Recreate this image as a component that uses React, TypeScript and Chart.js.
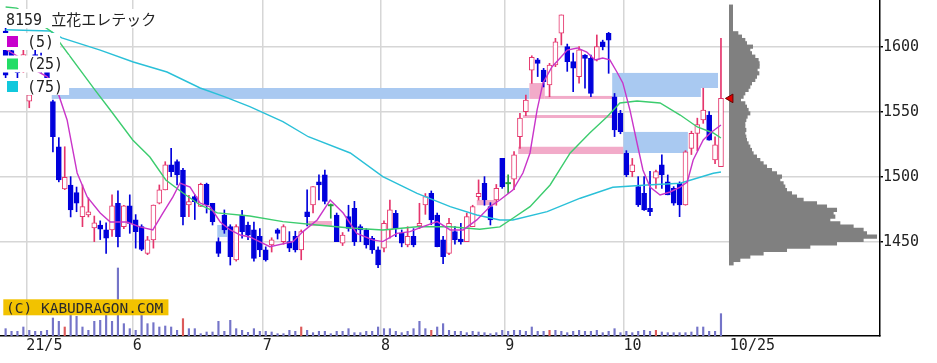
import { useEffect, useRef } from 'react';
import { Chart, registerables } from 'chart.js';

Chart.register(...registerables);

// ---------------- data ----------------
const TITLE = '8159 立花エレテック';
const COPYRIGHT = '(C) KABUDRAGON.COM';

// trading days 2021/4/26 .. 2021/10/25 (index 0..121)
const opens = [
  1612, 1597, 1588, 1583, 1558, 1594, 1590, 1588, 1557.7, 1523,
  1490.5, 1493.6, 1487.7, 1469.2, 1470.5, 1460.5, 1462.8, 1459, 1459, 1479.5,
  1461.5, 1477.5, 1466.7, 1461.5, 1441, 1451.3, 1479.5, 1489.8, 1509, 1511.5,
  1505, 1478.2, 1484.6, 1477, 1494, 1479.5, 1450, 1470.5, 1461.5, 1436,
  1470.5, 1462.8, 1459, 1454, 1443.6, 1447.5, 1459, 1450, 1450, 1454,
  1443.6, 1473, 1478.2, 1496, 1501.3, 1478, 1470.5, 1448.8, 1469.2, 1475.6,
  1461.5, 1459, 1452.6, 1443.6, 1445, 1459, 1471.8, 1456.4, 1447.5, 1454,
  1462, 1478.2, 1487.2, 1470.5, 1451.3, 1441, 1457.7, 1452, 1450, 1461.5,
  1484.6, 1494.9, 1477, 1482, 1514, 1495, 1498, 1530.7, 1550, 1582,
  1589.8, 1582, 1570.5, 1585.9, 1610.3, 1600, 1588.5, 1577, 1593.6, 1591,
  1589.8, 1603.8, 1610.3, 1561.5, 1548.7, 1518, 1503.8, 1492.3, 1487.2, 1475.6,
  1498.8, 1509, 1496, 1491, 1494.9, 1478.2, 1521.8, 1533.3, 1543.6, 1547.4,
  1512.8, 1507.7,
];
const highs = [
  1615, 1600, 1592, 1598, 1564, 1598, 1595, 1592, 1559, 1530,
  1523, 1500, 1492, 1493.6, 1483.6, 1469.7, 1466, 1464.4, 1486, 1489,
  1478, 1486, 1470.8, 1463, 1454, 1478.2, 1493.6, 1511.5, 1521.8, 1513,
  1506.4, 1485.7, 1486, 1495, 1495, 1479.5, 1453, 1474.4, 1463, 1463,
  1474, 1465, 1465, 1460, 1446, 1453, 1460, 1463, 1457.7, 1458,
  1459, 1489.8, 1492.3, 1501.3, 1505, 1479, 1472, 1457, 1478, 1481,
  1463, 1460, 1454, 1446, 1466, 1482, 1474, 1459, 1461.5, 1460,
  1479.5, 1487, 1489, 1472, 1454, 1468, 1461.5, 1464, 1472, 1478,
  1497.5, 1500, 1480, 1494, 1514, 1501.3, 1519.2, 1548.7, 1562.8, 1593,
  1591, 1583.3, 1587.2, 1606.4, 1624.4, 1602, 1595, 1600, 1594, 1593.6,
  1609, 1605, 1611, 1564, 1551, 1520, 1514, 1500, 1500, 1504,
  1505, 1516.7, 1501.3, 1492.3, 1496, 1520, 1535, 1545, 1568, 1550,
  1530.7, 1606.4,
];
const lows = [
  1574, 1588, 1576, 1580, 1553, 1586, 1580, 1568, 1519, 1496,
  1490, 1469, 1473, 1461.5, 1469, 1450, 1451.6, 1441, 1454, 1446,
  1460, 1456.4, 1445, 1443, 1440, 1445, 1479, 1489.8, 1500, 1493.6,
  1462.8, 1469.2, 1467, 1477, 1472, 1462.8, 1438.5, 1456.4, 1432, 1435,
  1452.6, 1451.6, 1435, 1438.5, 1435, 1442, 1452, 1448, 1442.3, 1442,
  1436, 1462, 1472, 1482, 1479, 1468, 1450, 1447, 1458, 1447,
  1450, 1445, 1441, 1430, 1442, 1452.6, 1453.8, 1446, 1446, 1446,
  1460, 1471, 1463, 1446, 1433, 1440, 1448, 1448, 1450, 1461.5,
  1482, 1478, 1462.8, 1478, 1491, 1487, 1490, 1521.8, 1547, 1571.8,
  1577, 1569, 1561.5, 1584.6, 1601.3, 1581, 1565.4, 1572, 1568, 1561.5,
  1589, 1597.5, 1579.5, 1530.8, 1533, 1500, 1500, 1477, 1474, 1470,
  1491, 1491, 1486, 1478, 1469.2, 1478, 1517, 1520, 1541, 1528,
  1510, 1507.7,
];
const closes = [
  1578, 1592, 1580, 1594, 1563, 1588, 1584, 1572, 1530.7, 1497.5,
  1499.5, 1474.4, 1479.5, 1476.9, 1473, 1464.4, 1459.5, 1452.6, 1477.5, 1453.8,
  1477.5, 1464.1, 1457.7, 1444, 1451.3, 1478.2, 1489.8, 1509, 1503.8, 1501.3,
  1469.2, 1480.8, 1480.8, 1494, 1478.2, 1465.4, 1441, 1459, 1438.5, 1461.5,
  1457.7, 1455, 1437, 1443.6, 1436, 1451.3, 1456.4, 1461.5, 1445, 1443.6,
  1457.7, 1469.2, 1492.3, 1493.6, 1481, 1478, 1450, 1455, 1460.2, 1450,
  1459, 1447.5, 1443.6, 1432, 1464.1, 1474.4, 1460.2, 1448.8, 1454, 1447.5,
  1464, 1484.6, 1466.7, 1446.2, 1438.5, 1464.1, 1451.3, 1450, 1469.2, 1477,
  1487.2, 1482, 1466.7, 1491, 1492.3, 1495, 1516.7, 1545, 1559, 1591.8,
  1587.2, 1573, 1585.9, 1603.8, 1624.4, 1588.5, 1583.4, 1597.5, 1591, 1564.1,
  1600, 1600, 1605, 1536, 1534.6, 1501.3, 1509, 1478.2, 1474.4, 1473,
  1503.8, 1501.3, 1486, 1479.5, 1478.2, 1519, 1533.3, 1540, 1551.3, 1528,
  1524.4, 1560.2,
];
// volume (thousand shares)
const volumes = [
  22, 14, 14, 27, 17, 14, 14, 17, 54, 44,
  27, 62, 59, 27, 17, 44, 47, 62, 44, 204,
  37, 22, 17, 62, 37, 40, 27, 30, 27, 17,
  52, 22, 22, 7, 12, 12, 44, 14, 47, 22,
  17, 11, 22, 14, 14, 12, 7, 7, 17, 14,
  27, 17, 10, 14, 14, 7, 14, 14, 22, 10,
  10, 14, 14, 27, 22, 22, 14, 10, 14, 22,
  44, 22, 17, 27, 37, 17, 14, 14, 10, 14,
  12, 10, 7, 10, 17, 14, 17, 17, 14, 27,
  14, 14, 17, 17, 14, 10, 14, 17, 14, 14,
  17, 10, 14, 22, 10, 14, 10, 14, 17, 14,
  17, 12, 10, 10, 10, 10, 12, 27, 27, 14,
  14, 67,
];
const redVolumeDays = [10, 30, 50, 72, 92, 110];

// first trading day of each month and axis labels
const monthStartIdx = [4, 22, 44, 64, 85, 105];
const monthLabels = ['21/5', '6', '7', '8', '9', '10'];
const lastDateLabel = '10/25';
const priceTicks = [1450, 1500, 1550, 1600];

// moving averages [trading-day index, price]
const ma5Points = [
  [0, 1598], [3, 1590], [5, 1582], [7, 1577], [8.7, 1566.7], [10.4, 1543.6], [12.1, 1502.8],
  [13.8, 1484.4], [16, 1472], [17.7, 1465.1], [20.5, 1465.1], [22.7, 1461.3], [24.9, 1459],
  [26.6, 1472], [28.3, 1484.4], [29.5, 1495.1], [31.2, 1492], [32.9, 1479.7], [34.6, 1476.7],
  [36.3, 1465.1], [38, 1459], [39.7, 1455.1], [41.3, 1453.6], [44.7, 1446.1], [48.6, 1450],
  [50.3, 1457.7], [52.7, 1466.7], [54.9, 1482], [57.1, 1472], [59.4, 1456.4], [62.1, 1451.3],
  [63.8, 1450], [66.2, 1456.4], [68.4, 1457.7], [70.6, 1461.5], [73, 1465.4], [75.2, 1459],
  [77.4, 1459], [79.7, 1466.7], [81.9, 1476.9], [83.6, 1482], [85.8, 1489.7], [87.5, 1502.8],
  [88.7, 1518.2], [89.9, 1551.3], [90.9, 1572.1], [92.4, 1584.4], [93.8, 1591.3], [95, 1597.4],
  [96.7, 1599], [98.3, 1595.9], [99.7, 1589.8], [101, 1591.3], [102.2, 1589.8], [103.4, 1580.5],
  [104.4, 1572.1], [105.6, 1551.3], [106.8, 1525.9], [107.8, 1505.1], [109, 1492], [110.7, 1485.9],
  [112.4, 1488.2], [114.1, 1492], [115.3, 1495.9], [116.3, 1512.8], [118, 1528.2], [119.2, 1533.6],
  [121, 1539.7],
];
const ma25Points = [
  [0, 1630.5], [1.9, 1629.7], [7.85, 1611.3], [15.1, 1566.7], [17.7, 1551.3], [21.5, 1528.2],
  [24.4, 1515.1], [27.1, 1497.4], [30, 1487.4], [32.9, 1478.2], [35.8, 1472.1], [41.3, 1469.7],
  [46.9, 1465.4], [52.7, 1462.8], [58.3, 1460.5], [63.8, 1459], [69.6, 1461.5], [75.2, 1461.5],
  [80.2, 1459.5], [83.6, 1461.3], [85.8, 1468], [88.7, 1476.9], [92.1, 1493.6], [95.5, 1518.2],
  [98.8, 1533.6], [101.7, 1545.9], [103.9, 1556.7], [106.8, 1558.2], [110.7, 1556.7],
  [114.1, 1547.4], [117, 1538.2], [119.7, 1533.6], [121, 1529.7],
];
const ma75Points = [
  [0, 1613], [7.5, 1612], [9.5, 1606.7], [16, 1597.4], [21.6, 1588.2], [27.3, 1580.5],
  [32.9, 1568.2], [37.1, 1561.3], [41.3, 1553.8], [46.9, 1542.3], [51.2, 1530.7], [58.3, 1518.2],
  [63.8, 1500], [69.6, 1487.2], [75.2, 1476.9], [79.7, 1470.5], [83.6, 1466.7], [85.8, 1466.7],
  [91.6, 1473.1], [97.2, 1483.4], [102.7, 1491.8], [108.5, 1493.6], [114.1, 1494.9],
  [119.7, 1502.6], [121, 1503.6],
];
const maLabels = ['(5)', '(25)', '(75)'];

// price gaps (窓): [from index, to index, low, high, kind]
const gapZones = [
  [7.8, 88.6, 1559.8, 1568.2, 'down'],
  [88.6, 91.2, 1559.8, 1572, 'up'],
  [91.2, 102.7, 1559.8, 1562.1, 'up'],
  [87.5, 102.7, 1545.1, 1547.4, 'up'],
  [86.7, 104.5, 1517.4, 1523, 'up'],
  [102.6, 120.5, 1568.2, 1579.8, 'down'],
  [102.6, 117.6, 1561.3, 1568.2, 'down'],
  [104.5, 115.4, 1518.2, 1534.4, 'down'],
  [51.2, 55.2, 1462, 1465.9, 'up'],
  [79.7, 82.8, 1478, 1482, 'up'],
  [35.8, 37.5, 1453.6, 1462.8, 'down'],
];

// volume-by-price profile
const profilePrices = [
  1630.8, 1628.2, 1625.6, 1623.1, 1620.5, 1617.9, 1615.4, 1612.8, 1610.3, 1607.7,
  1605.1, 1602.6, 1600.0, 1597.4, 1594.9, 1592.3, 1589.7, 1587.2, 1584.6, 1582.1,
  1579.5, 1576.9, 1574.4, 1571.8, 1569.2, 1566.7, 1564.1, 1561.5, 1559.0, 1556.4,
  1553.8, 1551.3, 1548.7, 1546.2, 1543.6, 1541.0, 1538.5, 1535.9, 1533.3, 1530.8,
  1528.2, 1525.6, 1523.1, 1520.5, 1517.9, 1515.4, 1512.8, 1510.3, 1507.7, 1505.1,
  1502.6, 1500.0, 1497.4, 1494.9, 1492.3, 1489.7, 1487.2, 1484.6, 1482.1, 1479.5,
  1476.9, 1474.4, 1471.8, 1469.2, 1466.7, 1464.1, 1461.5, 1459.0, 1456.4, 1453.8,
  1451.3, 1448.7, 1446.2, 1443.6, 1441.0, 1438.5, 1435.9, 1433.3,
];
const profileVolumes = [
  34, 34, 34, 34, 34, 34, 34, 34, 87, 124,
  157, 174, 234, 207, 224, 257, 290, 300, 300, 280,
  297, 274, 257, 224, 207, 190, 157, 140, 114, 157,
  174, 190, 207, 180, 167, 157, 157, 167, 157, 167,
  174, 190, 207, 224, 240, 274, 307, 340, 374, 424,
  474, 524, 507, 540, 557, 574, 624, 674, 740, 874,
  974, 1074, 1040, 1057, 1007, 1107, 1240, 1340, 1374, 1474,
  1340, 1074, 807, 574, 340, 207, 107, 40,
];

// ---------------- styles ----------------
const UP = '#e5356c';
const DOWN = '#0000dc';
const DOJI = '#22a03c';
const VOL_BLUE = '#7474c8';
const VOL_RED = '#dc5a5a';
const BAND_BLUE = '#a9c9f1';
const BAND_PINK = '#f2abc9';
const MA_COLORS = ['#c935c9', '#3ccc6e', '#2ac0d8'];
const MA_SWATCH = ['#c800cc', '#22dd66', '#11c8dc'];
const GRID = '#d6d6d6';
const MONO = '"DejaVu Sans Mono", monospace';

const noPadding = (s: any) => {
  s.paddingLeft = 0;
  s.paddingRight = 0;
  s.paddingTop = 0;
  s.paddingBottom = 0;
};

const overlayPlugin = {
  id: 'overlay',
  beforeDatasetsDraw(chart: any) {
    const { ctx, chartArea, scales } = chart;
    const x = scales.x;
    const y = scales.y;
    ctx.save();
    ctx.beginPath();
    ctx.rect(chartArea.left, chartArea.top, chartArea.right - chartArea.left, chartArea.bottom - chartArea.top);
    ctx.clip();
    for (const [s, e, lo, hi, kind] of gapZones as any[]) {
      const x1 = x.getPixelForValue(s);
      const x2 = x.getPixelForValue(e);
      const y1 = y.getPixelForValue(hi);
      const y2 = y.getPixelForValue(lo);
      ctx.fillStyle = kind === 'up' ? BAND_PINK : BAND_BLUE;
      ctx.fillRect(x1, y1, x2 - x1, y2 - y1);
    }
    ctx.restore();
  },
  afterDatasetsDraw(chart: any) {
    const { ctx } = chart;
    ctx.save();
    ctx.textBaseline = 'alphabetic';
    ctx.textAlign = 'left';
    // title
    ctx.font = `15px ${MONO}, "Noto Sans CJK JP"`;
    const tw = ctx.measureText(TITLE).width;
    ctx.fillStyle = '#ffffff';
    ctx.fillRect(0, 9, 6 + tw + 5, 19);
    ctx.fillStyle = '#222222';
    ctx.fillText(TITLE, 6, 25);
    // moving-average legend
    maLabels.forEach((label, k) => {
      const top = 36 + k * 22.5;
      ctx.font = `15px ${MONO}`;
      const w = ctx.measureText(label).width;
      ctx.fillStyle = '#ffffff';
      ctx.fillRect(0, top - 3, 27 + w + 6, 17);
      ctx.fillStyle = MA_SWATCH[k];
      ctx.fillRect(7, top, 11, 11);
      ctx.fillStyle = '#222222';
      ctx.fillText(label, 27, top + 10.7);
    });
    // copyright
    ctx.font = `14.5px ${MONO}`;
    const cw = ctx.measureText(COPYRIGHT).width;
    ctx.fillStyle = '#f2c200';
    ctx.fillRect(3.3, 299.3, cw + 8, 16);
    ctx.fillStyle = '#2a2a2a';
    ctx.fillText(COPYRIGHT, 6, 312.5);
    ctx.restore();
  },
};

export default function App() {
  const ref = useRef<HTMLCanvasElement | null>(null);

  useEffect(() => {
    const canvas = ref.current;
    if (!canvas) return;
    const idx = closes.map((_, i) => i);
    const isDoji = (i: number) => Math.abs(closes[i] - opens[i]) <= 0.5;
    const isUp = (i: number) => closes[i] > opens[i];
    const candleColor = (i: number) => (isDoji(i) ? DOJI : isUp(i) ? UP : DOWN);

    const xTickValues = [...monthStartIdx.map((i) => i - 0.5), closes.length + 0.5];
    const xTickLabels = [...monthLabels, lastDateLabel];
    const last = closes.length - 1;

    const chart = new Chart(canvas, {
      type: 'bar',
      data: {
        datasets: [
          {
            type: 'bar',
            label: 'volume',
            data: volumes.map((v, i) => ({ x: i, y: v })),
            xAxisID: 'x',
            yAxisID: 'yv',
            backgroundColor: volumes.map((_, i) => (redVolumeDays.includes(i) ? VOL_RED : VOL_BLUE)),
            barThickness: 1.5,
            grouped: false,
            order: 10,
          },
          {
            type: 'bar',
            label: 'profile',
            indexAxis: 'y',
            data: profilePrices.map((p, k) => ({ y: p, x: profileVolumes[k] })),
            xAxisID: 'xh',
            yAxisID: 'y',
            backgroundColor: '#808080',
            barThickness: 3.5,
            grouped: false,
            order: 9,
          },
          {
            type: 'bar',
            label: 'wick',
            data: idx.map((i) => ({ x: i, y: [lows[i], highs[i]] })),
            xAxisID: 'x',
            yAxisID: 'y',
            backgroundColor: idx.map(candleColor),
            barThickness: 1,
            grouped: false,
            order: 8,
          },
          {
            type: 'bar',
            label: 'body',
            data: idx.map((i) => ({
              x: i,
              y: isDoji(i)
                ? [closes[i] - 0.5, closes[i] + 0.5]
                : [Math.min(opens[i], closes[i]), Math.max(opens[i], closes[i])],
            })),
            xAxisID: 'x',
            yAxisID: 'y',
            backgroundColor: idx.map((i) => (isDoji(i) ? DOJI : isUp(i) ? '#ffffff' : DOWN)),
            borderColor: idx.map(candleColor),
            borderWidth: idx.map((i) => (isDoji(i) ? 0 : 1)),
            borderSkipped: false,
            barThickness: 5,
            grouped: false,
            order: 7,
          },
          {
            type: 'line',
            label: 'MA75',
            data: ma75Points.map(([x, y]) => ({ x, y })),
            xAxisID: 'x',
            yAxisID: 'y',
            borderColor: MA_COLORS[2],
            borderWidth: 1.4,
            pointRadius: 0,
            tension: 0,
            order: 6,
          },
          {
            type: 'line',
            label: 'MA25',
            data: ma25Points.map(([x, y]) => ({ x, y })),
            xAxisID: 'x',
            yAxisID: 'y',
            borderColor: MA_COLORS[1],
            borderWidth: 1.4,
            pointRadius: 0,
            tension: 0,
            order: 5,
          },
          {
            type: 'line',
            label: 'MA5',
            data: ma5Points.map(([x, y]) => ({ x, y })),
            xAxisID: 'x',
            yAxisID: 'y',
            borderColor: MA_COLORS[0],
            borderWidth: 1.4,
            pointRadius: 0,
            tension: 0,
            order: 4,
          },
          {
            type: 'line',
            label: 'last',
            data: [{ x: closes.length + 0.6, y: closes[last] }],
            xAxisID: 'x',
            yAxisID: 'y',
            showLine: false,
            pointStyle: 'triangle',
            rotation: -90,
            pointRadius: 5,
            backgroundColor: '#e00000',
            borderColor: '#6a0000',
            borderWidth: 1,
            order: 1,
          },
        ] as any,
      },
      options: {
        responsive: false,
        maintainAspectRatio: false,
        animation: false,
        devicePixelRatio: 1,
        events: [],
        layout: { padding: 0, autoPadding: false },
        plugins: { legend: { display: false }, tooltip: { enabled: false }, title: { display: false } },
        scales: {
          x: {
            type: 'linear',
            position: 'bottom',
            min: -0.95,
            max: 147.9,
            offset: false,
            afterBuildTicks: (s: any) => {
              s.ticks = xTickValues.map((v) => ({ value: v }));
            },
            afterFit: (s: any) => {
              s.height = 27;
              noPadding(s);
            },
            ticks: {
              callback: (_v: any, i: number) => xTickLabels[i],
              align: 'start',
              padding: 1.5,
              maxRotation: 0,
              autoSkip: false,
              color: '#222222',
              font: { family: MONO, size: 15 },
            },
            grid: {
              offset: false,
              drawTicks: false,
              lineWidth: 1.5,
              color: (c: any) => (c.index === xTickValues.length - 1 ? 'rgba(0,0,0,0)' : GRID),
            },
            border: { color: '#000000', width: 1.5 },
          },
          y: {
            type: 'linear',
            position: 'right',
            min: 1377.4,
            max: 1635.9,
            offset: false,
            beginAtZero: false,
            afterBuildTicks: (s: any) => {
              s.ticks = priceTicks.map((v) => ({ value: v }));
            },
            afterFit: (s: any) => {
              s.width = 57;
              noPadding(s);
            },
            ticks: {
              padding: 0,
              color: '#222222',
              font: { family: MONO, size: 15 },
              callback: (v: any) => String(v),
            },
            grid: { offset: false, color: GRID, lineWidth: 1.5, tickLength: 3, tickColor: '#000000', tickWidth: 1.5 },
            border: { color: '#000000', width: 1.5 },
          },
          yv: {
            type: 'linear',
            axis: 'y',
            display: false,
            offset: false,
            min: 0,
            max: 1008,
            afterFit: noPadding,
          },
          xh: {
            type: 'linear',
            axis: 'x',
            display: false,
            min: -7293,
            max: 1507,
            offset: false,
            afterFit: noPadding,
          },
        } as any,
      },
      plugins: [overlayPlugin],
    } as any);
    return () => chart.destroy();
  }, []);

  return (
    <div style={{ position: 'absolute', left: 0, top: 0, width: 937, height: 363, background: '#ffffff' }}>
      <canvas ref={ref} width={937} height={363} style={{ display: 'block', width: 937, height: 363 }} />
    </div>
  );
}
